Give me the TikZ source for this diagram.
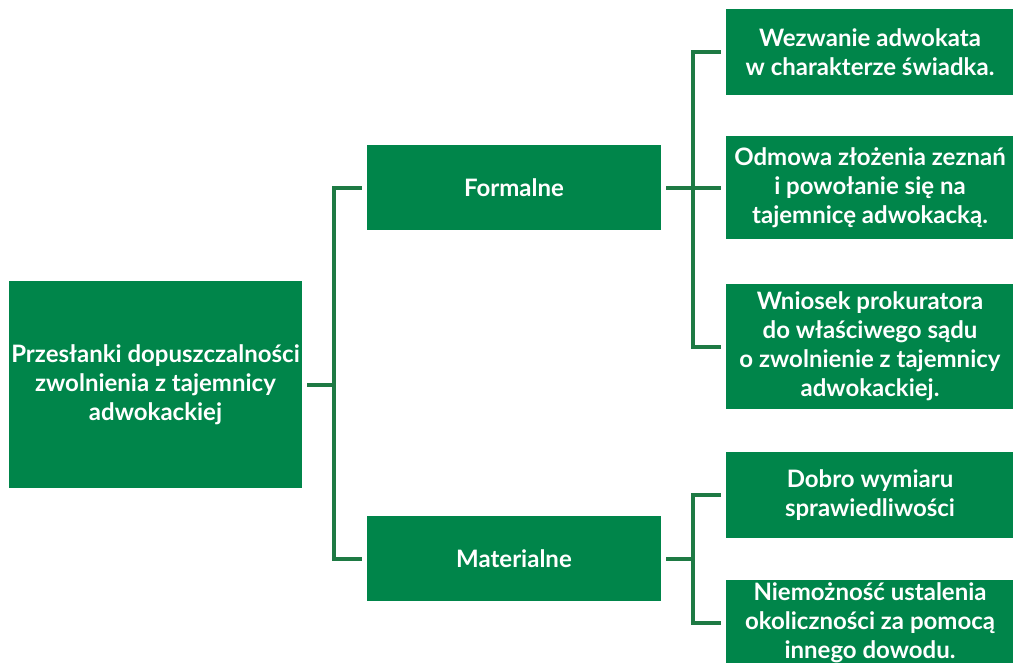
\documentclass[tikz,border=0pt]{standalone}
\usepackage{fontspec}
\setmainfont{Lato}
\definecolor{boxgreen}{RGB}{0,133,74}
\definecolor{linegreen}{RGB}{30,122,68}
\begin{document}
\begin{tikzpicture}[x=1pt, y=-1pt,
               box_style/.style={rectangle,fill=boxgreen,text=white,inner sep=0pt,align=center,font=\bfseries\fontsize{24}{29}\selectfont},
               root_style/.style={box_style,minimum width=293pt,minimum height=207pt},
               mid_style/.style={box_style,minimum width=294pt,minimum height=85pt},
               leaf_style/.style={box_style,minimum width=288pt},
               edge_style/.style={draw=linegreen,line width=4pt}]
                \useasboundingbox (0,0) rectangle (1013,662);
                \clip (0,0) rectangle (1013,662);

                \node[root_style] (root) at (155.5,384.5) {Przesłanki dopuszczalności\\zwolnienia z tajemnicy\\adwokackiej};
                \node[mid_style] (formalne) at (514,187.5) {Formalne};
                \node[mid_style] (materialne) at (514,558.5) {Materialne};
                \node[leaf_style,minimum height=86pt] (wezwanie) at (870,52) {Wezwanie adwokata\\w charakterze świadka.};
                \node[leaf_style,minimum height=103pt] (odmowa) at (870,187.5) {Odmowa złożenia zeznań\\i powołanie się na\\tajemnicę adwokacką.};
                \node[leaf_style,minimum height=125pt] (wniosek) at (870,346.5) {Wniosek prokuratora\\do właściwego sądu\\o zwolnienie z tajemnicy\\adwokackiej.};
                \node[leaf_style,minimum height=86pt] (dobro) at (870,495) {Dobro wymiaru\\sprawiedliwości};
                \node[leaf_style,minimum height=86pt] (niemoznosc) at (870,623) {Niemożność ustalenia\\okoliczności za pomocą\\innego dowodu.};

                \coordinate (j_root) at (334,384.5);
                \coordinate (j_formalne) at (693,187.5);
                \coordinate (j_materialne) at (693,558.5);

                \draw[edge_style,shorten <=5pt]  (root.east) -- (j_root);
                \draw[edge_style,shorten >=5pt]  (j_root) |- (formalne.west);
                \draw[edge_style,shorten >=5pt]  (j_root) |- (materialne.west);
                \draw[edge_style,shorten <=5pt]  (formalne.east) -- (j_formalne);
                \draw[edge_style,shorten >=5pt]  (j_formalne) |- (wezwanie.west);
                \draw[edge_style,shorten >=5pt]  (j_formalne) -- (odmowa.west);
                \draw[edge_style,shorten >=5pt]  (j_formalne) |- (wniosek.west);
                \draw[edge_style,shorten <=5pt]  (materialne.east) -- (j_materialne);
                \draw[edge_style,shorten >=5pt]  (j_materialne) |- (dobro.west);
                \draw[edge_style,shorten >=5pt]  (j_materialne) |- (niemoznosc.west);
            \end{tikzpicture}
\end{document}
